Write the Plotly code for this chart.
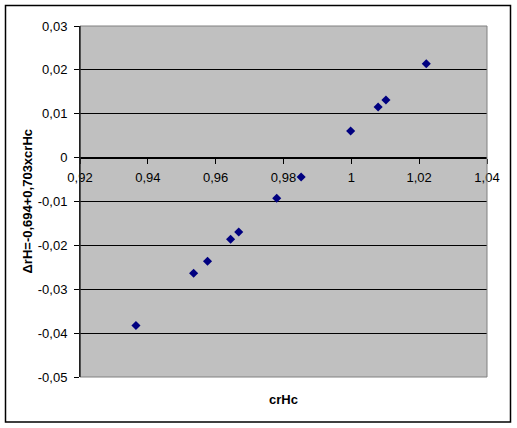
import plotly.graph_objects as go

# Data
crHc = [0.9365, 0.9535, 0.9576, 0.9644, 0.9668, 0.9780, 0.9852, 0.9998, 1.0079, 1.0102, 1.0221]
dH = [-0.03827, -0.02636, -0.02362, -0.01861, -0.01695, -0.00927, -0.00442, 0.00606, 0.01153, 0.01312, 0.02141]

x_tickvals = [0.92, 0.94, 0.96, 0.98, 1.00, 1.02, 1.04]
x_ticktext = ["0,92", "0,94", "0,96", "0,98", "1", "1,02", "1,04"]
y_tickvals = [0.03, 0.02, 0.01, 0.0, -0.01, -0.02, -0.03, -0.04, -0.05]
y_ticktext = ["0,03", "0,02", "0,01", "0", "-0,01", "-0,02", "-0,03", "-0,04", "-0,05"]

x_title = "crHc"
y_title = "ΔrH=-0,694+0,703xcrHc"

W, H = 517, 428
L, R, T, B = 80, 30, 26, 51
pw = W - L - R
ph = H - T - B

font = dict(family="Liberation Sans, Arial, sans-serif", size=13, color="black")

fig = go.Figure()
fig.add_trace(go.Scatter(
    x=crHc, y=dH, mode="markers",
    marker=dict(symbol="diamond", size=7, color="#000080"),
    showlegend=False, hoverinfo="skip", cliponaxis=False,
))

ymin, ymax = -0.05, 0.03
zero_pos = (0 - ymin) / (ymax - ymin)

fig.update_layout(
    width=W, height=H,
    margin=dict(l=L, r=R, t=T, b=B),
    paper_bgcolor="white",
    plot_bgcolor="#C0C0C0",
    font=font,
    xaxis=dict(
        range=[0.92, 1.04],
        tickvals=x_tickvals, ticktext=x_ticktext,
        showgrid=False, zeroline=False,
        showline=True, linecolor="black", linewidth=1,
        ticks="outside", ticklen=5, tickcolor="black", tickwidth=1,
        anchor="free", position=zero_pos,
        ticklabelstandoff=3,
        fixedrange=True,
    ),
    yaxis=dict(
        range=[ymin, ymax],
        tickvals=y_tickvals, ticktext=y_ticktext,
        showgrid=True, gridcolor="black", gridwidth=1,
        zeroline=False,
        showline=True, linecolor="black", linewidth=1,
        ticks="outside", ticklen=5, tickcolor="black", tickwidth=1,
        ticklabelstandoff=4,
        fixedrange=True,
    ),
    shapes=[
        # plot area border (grey)
        dict(type="rect", xref="paper", yref="paper", x0=0, x1=1, y0=0, y1=1,
             line=dict(color="#808080", width=1), layer="above"),
        # outer chart border
        dict(type="rect", xref="paper", yref="paper",
             x0=(5.5 - L) / pw, x1=(510.5 - L) / pw,
             y0=-(422 - T - ph) / ph, y1=(T - 5.5) / ph + 1,
             line=dict(color="black", width=1.5), layer="above"),
    ],
    annotations=[
        dict(text="<b>" + x_title + "</b>", xref="paper", yref="paper",
             x=0.5, y=-(399 - T - ph) / ph, showarrow=False,
             xanchor="center", yanchor="middle", font=font),
        dict(text="<b>" + y_title + "</b>", xref="paper", yref="paper",
             x=(27 - L) / pw, y=0.5, showarrow=False, textangle=-90,
             xanchor="center", yanchor="middle", font=font),
    ],
)

fig.add_shape(type="line", xref="paper", yref="paper", x0=0, x1=0, y0=0, y1=1,
              line=dict(color="black", width=1), layer="above")

fig.write_html(
    "out.html",
    config={"displayModeBar": False},
    post_script="document.body.style.margin='0';document.body.style.overflow='hidden';",
)
